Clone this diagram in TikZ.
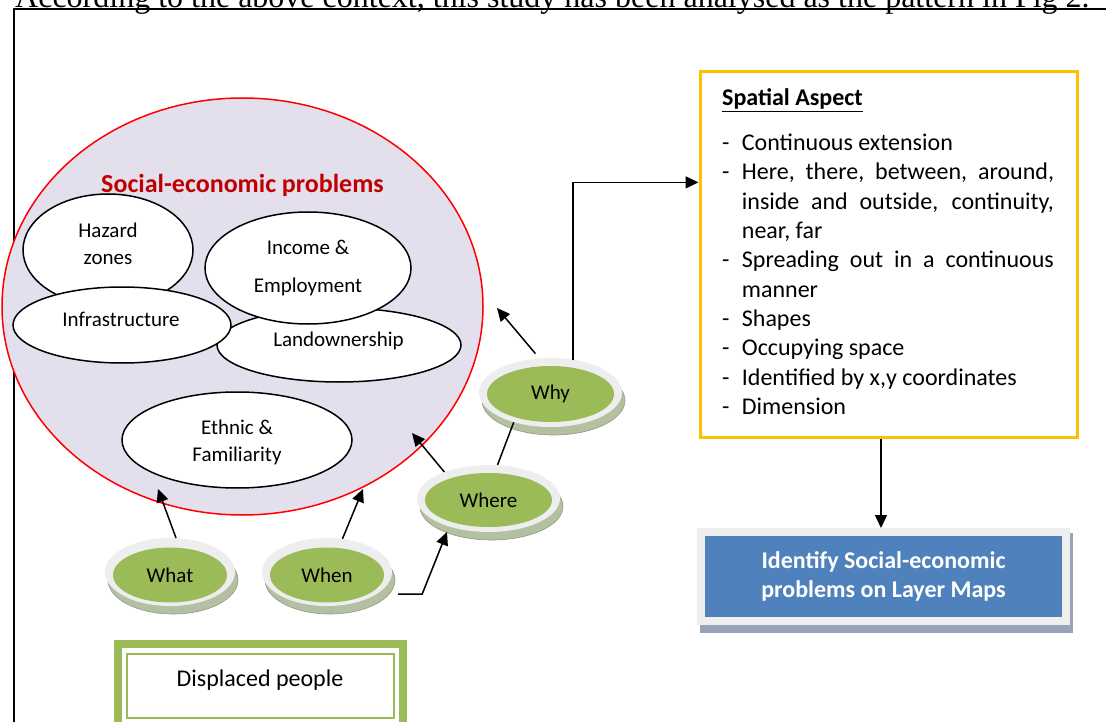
\documentclass[tikz,border=0pt]{standalone}
\usepackage{fontspec}
\setmainfont{Carlito}
\newfontfamily\timesf{Liberation Serif}
\usetikzlibrary{shapes.geometric,arrows.meta,calc}
\definecolor{lavender}{HTML}{E4DFEC}
\definecolor{titlered}{HTML}{C00000}
\definecolor{discgreen}{HTML}{9BBB59}
\definecolor{rimgray}{HTML}{EEEEEE}
\definecolor{shadgreen}{HTML}{B4C0A2}
\definecolor{shadline}{HTML}{8E9C7E}
\definecolor{yellowc}{HTML}{FFC000}
\definecolor{bluec}{HTML}{4F81BD}
\definecolor{idshadow}{HTML}{98A3B6}
\newcommand{\sdash}{\makebox[19.7pt][l]{-}}
\newcommand{\mydisc}[7]{%
  \node[shad, minimum width=#4pt, minimum height=#5pt] (#1s) at (#2+3,#3+8) {};
  \node[rim, minimum width=#4pt, minimum height=#5pt] (#1) at (#2,#3) {};
  \node[gdisc, minimum width=#4pt-16pt, minimum height=#5pt-13pt] (#1g) at (#2,#3+#7) {#6};
}
\tikzset{
  inell/.style={ellipse, draw=black, line width=1.5pt, fill=white, inner sep=0pt},
  itext/.style={font=\fontsize{21}{27}\selectfont, align=center, inner sep=0pt},
  rim/.style={ellipse, fill=rimgray, inner sep=0pt},
  shad/.style={ellipse, fill=shadgreen, draw=shadline, line width=0.6pt, inner sep=0pt},
  gdisc/.style={ellipse, fill=discgreen, inner sep=0pt, font=\fontsize{21}{25}\selectfont},
  arr/.style={line width=1.5pt, -{Triangle[length=13pt,width=12pt]}},
  conn/.style={line width=1.5pt},
  stext/.style={anchor=base west, inner sep=0pt, font=\fontsize{24}{29}\selectfont},
}
\begin{document}
\begin{tikzpicture}[x=1pt,y=-1pt]
\useasboundingbox (0,0) rectangle (1106,722);
% top caption (cut off) and frame
\node[anchor=base west, inner sep=0pt, font=\timesf\fontsize{32}{36}\selectfont] (caption) at (15,7.5)
  {According to the above context, this study has been analysed as the pattern in Fig 2.};
\draw[line width=2pt] (13.7,740) -- (13.7,8.7) -- (1115,8.7);

% big circle
\node[ellipse, fill=lavender, draw=red, line width=1.5pt, minimum width=481pt, minimum height=417pt, inner sep=0pt] (socio) at (242.5,306.5) {};
\node[anchor=base, inner sep=0pt, font=\bfseries\fontsize{26}{30}\selectfont, text=titlered] (title) at (242.5,193) {Social-economic problems};

% inner ellipses
\node[inell, minimum width=170pt, minimum height=112pt] (hazard) at (108,250) {};
\node[inell, minimum width=244pt, minimum height=74pt] (land) at (339,345) {};
\node[inell, minimum width=218pt, minimum height=76pt] (infra) at (122,325) {};
\node[inell, minimum width=206pt, minimum height=112pt] (income) at (308,268) {};
\node[inell, minimum width=230pt, minimum height=96pt] (ethnic) at (237,440) {};
\node[itext] (hazardt) at (108,244) {Hazard\\zones};
\node[itext] (infrat) at (121,319) {Infrastructure};
\node[itext, font=\fontsize{21}{38}\selectfont] (incomet) at (308,268) {Income \&\\Employment};
\node[itext] (landt) at (338.5,341) {Landownership};
\node[itext] (ethnict) at (237,442) {Ethnic \&\\Familiarity};

% discs
\mydisc{what}{170}{572}{130}{68}{What}{3}
\mydisc{when}{327}{572}{130}{68}{When}{3}
\mydisc{where}{488.5}{498.5}{143}{67}{Where}{1.5}
\mydisc{why}{550.5}{392.5}{143}{69}{Why}{1.5}

% spatial aspect box
\node[rectangle, draw=yellowc, fill=white, line width=3pt, minimum width=377pt, minimum height=365pt, inner sep=0pt] (spatial) at (888.5,254.5) {};
\node[anchor=base west, inner sep=0pt, font=\bfseries\fontsize{24}{29}\selectfont] (sahead) at (722,106) {\underline{Spatial Aspect}};
\node[stext] (sa1) at (722,150.7) {\sdash Continuous extension};
\node[stext] (sa2) at (722,180) {\sdash\makebox[312pt][s]{Here, there, between, around,}};
\node[stext] (sa3) at (722,209.3) {\hspace*{19.7pt}\makebox[312pt][s]{inside and outside, continuity,}};
\node[stext] (sa4) at (722,238.6) {\hspace*{19.7pt}near, far};
\node[stext] (sa5) at (722,267.9) {\sdash\makebox[312pt][s]{Spreading out in a continuous}};
\node[stext] (sa6) at (722,297.2) {\hspace*{19.7pt}manner};
\node[stext] (sa7) at (722,326.5) {\sdash Shapes};
\node[stext] (sa8) at (722,355.8) {\sdash Occupying space};
\node[stext] (sa9) at (722,385.1) {\sdash Identified by x,y coordinates};
\node[stext] (sa10) at (722,414.4) {\sdash Dimension};

% identify box
\node[rectangle, fill=idshadow, minimum width=373pt, minimum height=100pt, inner sep=0pt] (idshadow) at (886.5,583) {};
\node[rectangle, fill=bluec, draw=rimgray, line width=8pt, minimum width=365pt, minimum height=89pt, inner sep=0pt,
      text=white, align=center, font=\bfseries\fontsize{24}{29}\selectfont] (identify) at (883.5,576.5)
      {Identify Social-economic\\problems on Layer Maps};

% displaced people box
\node[rectangle, draw=discgreen, line width=2pt, minimum width=267pt, minimum height=64pt, inner sep=0pt] (displaced) at (260.5,686) {};
\draw[discgreen, line width=8pt] ($(displaced.north west)+(-8,-9)$) rectangle ($(displaced.south east)+(8,30)$);
\node[inner sep=0pt, font=\fontsize{24}{29}\selectfont] (displacedt) at (260,680) {Displaced people};

% connectors
\coordinate (t1) at (158,489);
\coordinate (t2) at (363,489);
\coordinate (t3) at (412,433);
\coordinate (t4) at (497,308);
\coordinate (t5) at (447,532);
\draw[arr] (what.80) -- (t1);
\draw[arr] (when.65) -- (t2);
\draw[arr] ($(when.east)+(6,22)$) -- ++(24,0) -- (t5);
\draw[arr] (where.149) -- (t3);
\draw[conn] (where.75) -- (why.219);
\draw[arr] ($(why.114)+(0,-5)$) -- (t4);
\draw[arr] (why.56) |- ($(spatial.north west)!0.304!(spatial.south west)$);
\draw[arr] ($(spatial.south)+(-7.5,0)$) coordinate (s1) -- (s1 |- identify.north);
\end{tikzpicture}
\end{document}
